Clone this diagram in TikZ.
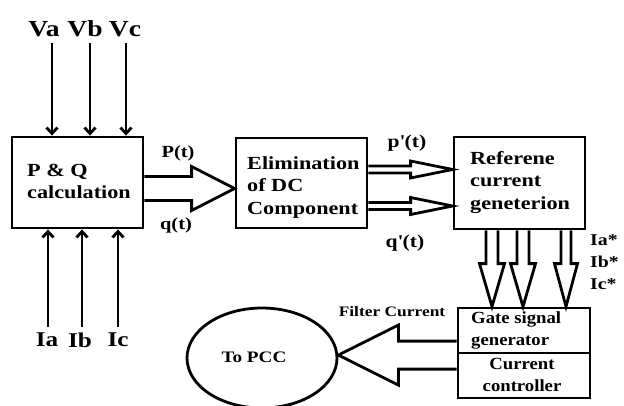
\documentclass[tikz,border=0pt]{standalone}
\usepackage{fontspec}
\setmainfont[FakeStretch=1.2]{Liberation Serif}
\newfontfamily\narrowserif[FakeStretch=1.1]{Liberation Serif}
\usetikzlibrary{calc,arrows.meta,shapes.geometric}
\tikzset{
  box/.style={draw, line width=2.8pt, inner sep=0pt},
  bigt/.style={font=\bfseries\fontsize{23}{26}\selectfont, inner sep=0pt},
  midt/.style={font=\bfseries\fontsize{18.5}{22.5}\selectfont, inner sep=0pt, align=left},
  smlt/.style={font=\bfseries\fontsize{17}{20}\selectfont, inner sep=0pt},
  gatet/.style={font=\narrowserif\bfseries\fontsize{17}{22}\selectfont, inner sep=0pt},
  thinarr/.style={line width=2.8pt, -{Straight Barb[length=6pt,width=11pt]}},
  hol/.style={line width=2.8pt, line join=miter}
}
\newcommand\HArrowR[5]{\draw[hol] let \p1=(#1), \p2=(#2) in
  (\x1,\y1+#3) -- (\x2-#5,\y1+#3) -- (\x2-#5,\y1+#4) -- (\x2,\y1)
  -- (\x2-#5,\y1-#4) -- (\x2-#5,\y1-#3) -- (\x1,\y1-#3);}
\newcommand\HArrowL[5]{\draw[hol] let \p1=(#1), \p2=(#2) in
  (\x1,\y1+#3) -- (\x2+#5,\y1+#3) -- (\x2+#5,\y1+#4) -- (\x2,\y1)
  -- (\x2+#5,\y1-#4) -- (\x2+#5,\y1-#3) -- (\x1,\y1-#3);}
\newcommand\HArrowD[5]{\draw[hol] let \p1=(#1), \p2=(#2) in
  (\x1+#3,\y1) -- (\x1+#3,\y2+#5) -- (\x1+#4,\y2+#5) -- (\x1,\y2)
  -- (\x1-#4,\y2+#5) -- (\x1-#3,\y2+#5) -- (\x1-#3,\y1);}
\begin{document}
\begin{tikzpicture}[x=1pt,y=-1pt]
\useasboundingbox (0,0) rectangle (624,405);
% boxes
\node[box, minimum width=131pt, minimum height=91pt] (pq) at (77.5,182.5) {};
\node[midt, anchor=west] (pqt) at (27,181.5) {P \& Q\\calculation};
\node[box, minimum width=131pt, minimum height=90pt] (elim) at (301.5,183) {};
\node[midt, anchor=west] (elimt) at (247,187.5) {Elimination\\of DC\\Component};
\node[box, minimum width=131pt, minimum height=92pt] (ref) at (519.5,183) {};
\node[midt, anchor=west] (reft) at (470,182.5) {Referene\\current\\geneterion};
\node[box, minimum width=132pt, minimum height=45pt] (gate) at (524,330.5) {};
\node[gatet, anchor=west, align=left] (gatetx) at (471,330.5) {Gate signal\\generator};
\node[box, minimum width=132pt, minimum height=45pt] (ctrl) at (524,375.5) {};
\node[gatet, align=center] (ctrlt) at (522,375) {Current\\controller};
\node[draw, line width=2.8pt, ellipse, minimum width=150pt, minimum height=100pt, inner sep=0pt] (pcc) at (262,358) {};
\node[font=\bfseries\fontsize{16}{18}\selectfont, inner sep=0pt] (pcct) at (254,357) {To PCC};
% voltage inputs
\node[bigt] (va) at (44,29) {Va};
\node[bigt] (vb) at (85,29) {Vb};
\node[bigt] (vc) at (125,29) {Vc};
\coordinate (vas) at (52,43);
\coordinate (vbs) at (90,43);
\coordinate (vcs) at (126,43);
\draw[thinarr] (vas) -- (vas |- pq.north);
\draw[thinarr] (vbs) -- (vbs |- pq.north);
\draw[thinarr] (vcs) -- (vcs |- pq.north);
% current inputs
\node[font=\bfseries\fontsize{21}{25}\selectfont, inner sep=0pt] (ia) at (47,340) {Ia};
\node[font=\bfseries\fontsize{21}{25}\selectfont, inner sep=0pt] (ib) at (80,340) {Ib};
\node[font=\bfseries\fontsize{21}{25}\selectfont, inner sep=0pt] (ic) at (118,340) {Ic};
\coordinate (ias) at (48,327);
\coordinate (ibs) at (82,327);
\coordinate (ics) at (118,327);
\draw[thinarr] (ias) -- (ias |- pq.south);
\draw[thinarr] (ibs) -- (ibs |- pq.south);
\draw[thinarr] (ics) -- (ics |- pq.south);
% pq -> elim
\path (pq.east) ++(0,6) coordinate (a1s);
\path (elim.west) ++(0,5) coordinate (a1e);
\HArrowR{a1s}{a1e}{12pt}{22pt}{43pt}
\node[smlt] (pt) at (178,153) {P(t)};
\node[smlt] (qt) at (176,225) {q(t)};
% elim -> ref
\path (elim.east) ++(0,-13.5) coordinate (a2s);
\path (ref.west) ++(0,-13.5) coordinate (a2e);
\HArrowR{a2s}{a2e}{3.5pt}{8.5pt}{42pt}
\path (elim.east) ++(0,23) coordinate (a3s);
\path (ref.west) ++(0,23) coordinate (a3e);
\HArrowR{a3s}{a3e}{3.5pt}{8.5pt}{42pt}
\node[font=\bfseries\fontsize{18}{20}\selectfont, inner sep=0pt] (ppt) at (407,143) {p\textquotesingle(t)};
\node[font=\bfseries\fontsize{18}{20}\selectfont, inner sep=0pt] (qpt) at (405,243) {q\textquotesingle(t)};
% ref -> gate
\path (ref.south) ++(-27.5,0) coordinate (d1s);
\path (ref.south) ++(3.5,0) coordinate (d2s);
\path (ref.south) ++(46.5,0) coordinate (d3s);
\coordinate (d1e) at (d1s |- gate.north);
\coordinate (d2e) at (d2s |- gate.north);
\coordinate (d3e) at (d3s |- gate.north);
\HArrowD{d1s}{d1e}{6pt}{12.5pt}{43pt}
\HArrowD{d2s}{d2e}{6pt}{12.5pt}{43pt}
\HArrowD{d3s}{d3e}{5pt}{11.5pt}{43pt}
\node[font=\bfseries\fontsize{16.5}{19}\selectfont, inner sep=0pt, anchor=west] (iastar) at (590,240) {Ia*};
\node[font=\bfseries\fontsize{16.5}{19}\selectfont, inner sep=0pt, anchor=west] (ibstar) at (590,262) {Ib*};
\node[font=\bfseries\fontsize{16.5}{19}\selectfont, inner sep=0pt, anchor=west] (icstar) at (590,284) {Ic*};
% gate -> pcc
\path (ctrl.north west) ++(0,3.5) coordinate (fs);
\coordinate (fe) at (pcc.east);
\HArrowL{fs}{fe}{14pt}{30pt}{60pt}
\node[font=\bfseries\fontsize{14.5}{16}\selectfont, inner sep=0pt] (flt) at (392,312) {Filter Current};
\end{tikzpicture}
\end{document}
